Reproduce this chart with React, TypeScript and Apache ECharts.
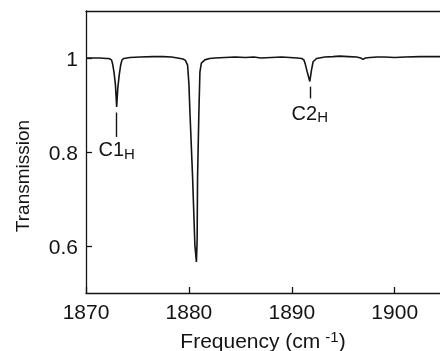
import React, { useEffect, useRef } from "react";
import * as echarts from "echarts";

// Spectrum: frequency (cm-1) and transmission
const frequency = [
  1870.0, 1870.6, 1871.36, 1872.0, 1872.23, 1872.48, 1872.59, 1872.72, 1872.86, 1872.98,
  1873.09, 1873.23, 1873.37, 1873.5, 1873.69, 1874.27, 1875.24, 1876.5, 1877.5, 1878.3,
  1878.9, 1879.42, 1879.66, 1879.87, 1880.0, 1880.1, 1880.36, 1880.58, 1880.73, 1880.8,
  1880.84, 1880.97, 1881.07, 1881.21, 1881.55, 1882.0, 1882.52, 1883.5, 1884.5, 1885.5,
  1886.3, 1887.0, 1888.0, 1889.0, 1889.8, 1890.5, 1890.97, 1891.17, 1891.31, 1891.49,
  1891.75, 1891.91, 1892.07, 1892.4, 1893.2, 1894.0, 1894.66, 1895.5, 1896.3, 1896.7,
  1896.92, 1897.15, 1897.6, 1898.3, 1899.0, 1900.0, 1901.0, 1902.5, 1904.4,
];
const transmission = [
  1.0, 1.0, 1.0, 0.999, 0.999, 0.996, 0.987, 0.97, 0.943, 0.896,
  0.936, 0.964, 0.985, 0.996, 0.999, 1.001, 1.002, 1.003, 1.003, 1.002,
  1.0, 0.998, 0.995, 0.985, 0.945, 0.885, 0.745, 0.602, 0.566, 0.613,
  0.745, 0.885, 0.97, 0.989, 0.996, 0.999, 1.0, 1.001, 1.002, 1.001,
  1.002, 1.0, 1.001, 1.002, 1.001, 1.0, 0.999, 0.996, 0.987, 0.971,
  0.95, 0.974, 0.992, 0.999, 1.002, 1.003, 1.004, 1.003, 1.002, 1.0,
  0.997, 1.0, 1.001, 1.002, 1.002, 1.001, 1.002, 1.003, 1.003,
];

// Peak annotations
const peakNames = ["C1", "C2"];
const peakSub = "H";
const peakFrequency = [1872.98, 1891.75];
const markerTop = [0.884, 0.939];
const markerBottom = [0.832, 0.914];
const labelLevel = [0.806, 0.883];

// Axis ticks
const xTicks = [1870, 1880, 1890, 1900];
const yTicks = [0.6, 0.8, 1];

const FONT = "'Liberation Sans', Arial, sans-serif";
const INK = "#141414";

export default function App() {
  const ref = useRef<HTMLDivElement>(null);
  useEffect(() => {
    if (!ref.current) return;
    const chart = echarts.init(ref.current, null, { renderer: "svg" });
    const data = frequency.map((f, i) => [f, transmission[i]]);
    const markLines = peakFrequency.map((f, i) => [
      { coord: [f, markerTop[i]] },
      { coord: [f, markerBottom[i]] },
    ]);
    const labelData = peakFrequency.map((f, i) => ({
      value: [f, labelLevel[i]],
      name: peakNames[i],
    }));
    chart.setOption({
      animation: false,
      grid: { left: 86, top: 11, right: 0, bottom: 58, outerBoundsMode: "none", containLabel: false },
      xAxis: [
        {
          type: "value",
          min: 1870,
          max: 1904.4,
          name: "{a|Frequency (cm}{b|-1}{a|)}",
          nameLocation: "middle",
          nameGap: 37,
          nameTextStyle: {
            rich: {
              a: { fontFamily: FONT, fontSize: 21, lineHeight: 21, color: INK },
              b: { fontFamily: FONT, fontSize: 15, lineHeight: 15, color: INK, padding: [0, 0, 8, 5] },
            },
          },
          axisLine: { show: true, onZero: false, lineStyle: { color: INK, width: 1.3 } },
          axisTick: { show: true, inside: true, length: 6, customValues: xTicks, lineStyle: { color: INK, width: 1.3 } },
          axisLabel: {
            customValues: xTicks,
            margin: 8,
            fontFamily: FONT,
            fontSize: 21,
            color: INK,
            formatter: (v: number) => String(v),
          },
          splitLine: { show: false },
        },
        {
          type: "value",
          position: "top",
          min: 1870,
          max: 1904.4,
          axisLine: { show: true, onZero: false, lineStyle: { color: INK, width: 1.3 } },
          axisTick: { show: false },
          axisLabel: { show: false },
          splitLine: { show: false },
        },
      ],
      yAxis: {
        type: "value",
        min: 0.5,
        max: 1.1,
        name: "Transmission",
        nameLocation: "middle",
        nameGap: 54,
        nameTextStyle: { fontFamily: FONT, fontSize: 19, color: INK, padding: [0, 48, 0, 0] },
        axisLine: { show: true, onZero: false, lineStyle: { color: INK, width: 1.3 } },
        axisTick: { show: true, inside: true, length: 6, customValues: yTicks, lineStyle: { color: INK, width: 1.3 } },
        axisLabel: {
          customValues: yTicks,
          margin: 8,
          fontFamily: FONT,
          fontSize: 21,
          color: INK,
          formatter: (v: number) => String(v),
        },
        splitLine: { show: false },
      },
      series: [
        {
          type: "line",
          data,
          showSymbol: false,
          symbol: "none",
          lineStyle: { color: INK, width: 1.6 },
          markLine: {
            silent: true,
            symbol: ["none", "none"],
            label: { show: false },
            lineStyle: { color: INK, width: 1.4, type: "solid" },
            data: markLines,
          },
        },
        {
          type: "scatter",
          data: labelData,
          symbolSize: 0,
          itemStyle: { color: INK, opacity: 1 },
          label: {
            show: true,
            position: "inside",
            color: INK,
            opacity: 1,
            textBorderWidth: 0,
            formatter: (p: any) => `{m|${p.name}}{s|${peakSub}}`,
            rich: {
              m: { fontFamily: FONT, fontSize: 20, lineHeight: 20, color: INK, textBorderWidth: 0 },
              s: { fontFamily: FONT, fontSize: 15, lineHeight: 14, color: INK, textBorderWidth: 0, padding: [8, 0, 0, 0] },
            },
          },
        },
      ],
    });
    return () => chart.dispose();
  }, []);
  return <div ref={ref} style={{ position: "fixed", left: 0, top: 0, width: 440, height: 351 }} />;
}
